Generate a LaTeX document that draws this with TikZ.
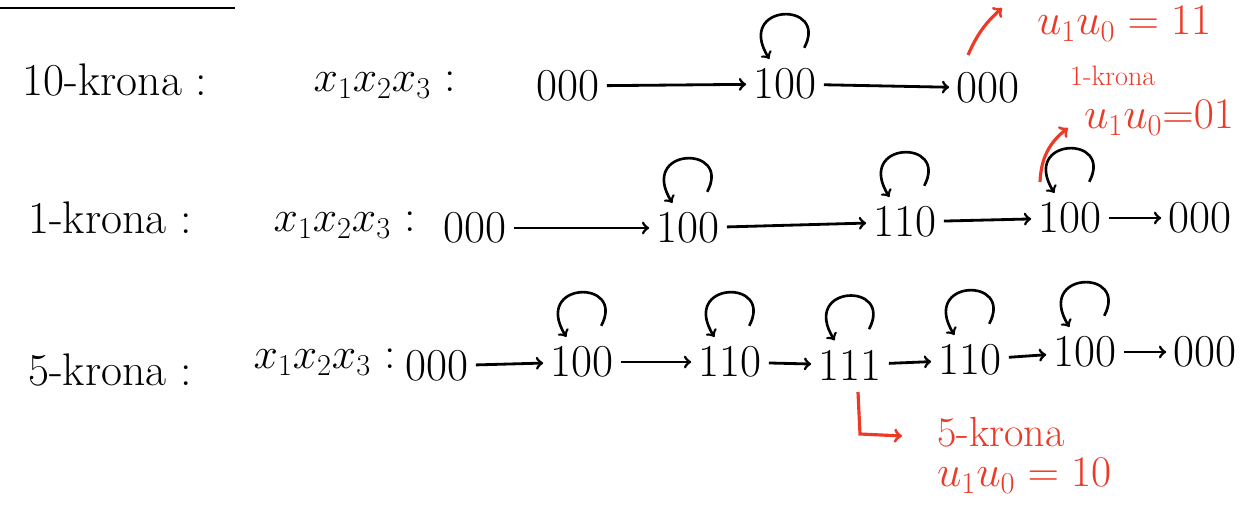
\documentclass[tikz,border=0pt]{standalone}
\usepackage{tikz}
\definecolor{pen}{RGB}{236,58,38}
\begin{document}
\begin{tikzpicture}[x=0.02cm,y=-0.02cm,
    every node/.style={font=\fontsize{26}{30}\selectfont,inner sep=1pt},
    tr/.style={->,line width=1.6pt,shorten >=3pt,shorten <=3pt},
    self/.style={->,line width=1.5pt,out=62,in=122,min distance=1.5cm,shorten >=5pt,shorten <=12pt},
    note/.style={text=pen,font=\fontsize{24}{28}\selectfont},
    redarr/.style={->,pen,line width=1.8pt}]
    \useasboundingbox (0,0) rectangle (1248,506);
    \draw[line width=1.2pt] (0,8) -- (235,8);
    % 10-krona
    \node (lab10) at (115,80) {10-krona :};
    \node (v10) at (385,85) {$x_1x_2x_3$ :};
    \node (a0) at (568,86) {000};
    \node (a1) at (785,84) {100};
    \node (a2) at (988,88) {000};
    \draw[tr] (a0) -- (a1);
    \draw[tr] (a1) -- (a2);
    \path (a1) edge[self] (a1);
    % 1-krona
    \node (lab1) at (110,218) {1-krona :};
    \node (v1) at (345,225) {$x_1x_2x_3$ :};
    \node (b0) at (475,228) {000};
    \node (b1) at (688,228) {100};
    \node (b2) at (905,222) {110};
    \node (b3) at (1070,218) {100};
    \node (b4) at (1200,218) {000};
    \draw[tr] (b0) -- (b1);
    \draw[tr] (b1) -- (b2);
    \draw[tr] (b2) -- (b3);
    \draw[tr] (b3) -- (b4);
    \foreach \s in {b1,b2,b3} {
      \path (\s) edge[self] (\s);
    }
    % 5-krona
    \node (lab5) at (110,370) {5-krona :};
    \node (v5) at (325,362) {$x_1x_2x_3$ :};
    \node (c0) at (437,366) {000};
    \node (c1) at (582,362) {100};
    \node (c2) at (730,362) {110};
    \node (c3) at (850,365) {111};
    \node (c4) at (970,360) {110};
    \node (c5) at (1085,352) {100};
    \node (c6) at (1205,352) {000};
    \foreach \s/\t in {c0/c1,c1/c2,c2/c3,c3/c4,c4/c5,c5/c6} {
      \draw[tr] (\s) -- (\t);
    }
    \foreach \s in {c1,c2,c3,c4,c5} {
      \path (\s) edge[self] (\s);
    }
    % outputs
    \node[note,anchor=west] (o11) at (1035,24) {$u_1u_0 = 11$};
    \node[note,anchor=west,font=\fontsize{16}{19}\selectfont] (k1) at (1068,76) {1-krona};
    \node[note,anchor=west] (o01) at (1082,118) {$u_1u_0{=}01$};
    \node[note,anchor=west] (k5) at (935,432) {5-krona};
    \node[note,anchor=west] (o10) at (935,476) {$u_1u_0 = 10$};
    \coordinate (p1) at (968,55);
    \coordinate (q1) at (1002,8);
    \coordinate (p2) at (1040,182);
    \coordinate (q2) at (1068,128);
    \coordinate (p3) at (858,392);
    \coordinate (q3) at (902,436);
    \draw[redarr] (p1) to[bend left=12] (q1);
    \draw[redarr] (p2) to[bend left=25] (q2);
    \draw[redarr] (p3) -- (860,434) -- (q3);
\end{tikzpicture}
\end{document}
